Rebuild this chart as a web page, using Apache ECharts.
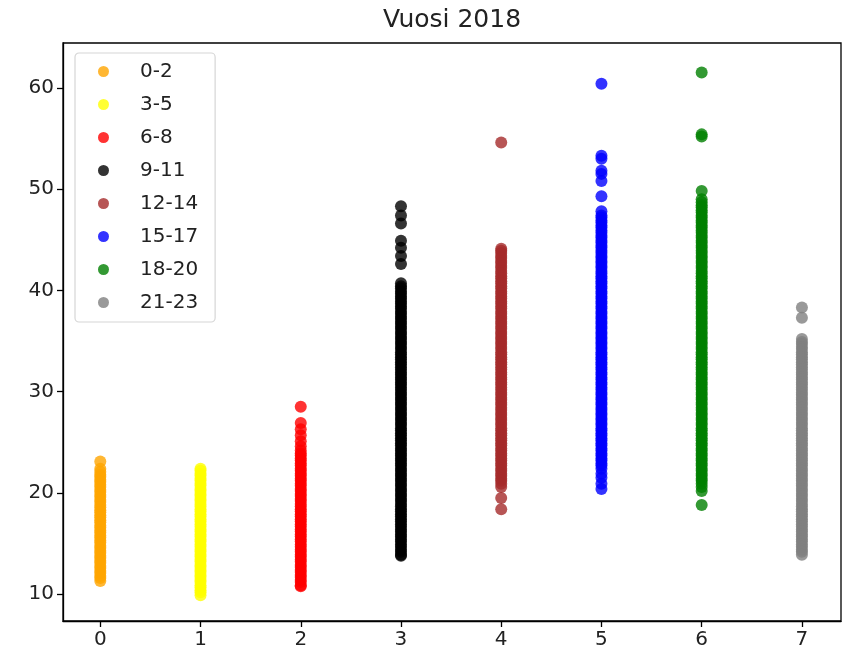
<!DOCTYPE html>
<html>
<head>
<meta charset="utf-8">
<script src="https://cdn.jsdelivr.net/npm/echarts@6/dist/echarts.min.js"></script>
<style>
  html, body { margin: 0; padding: 0; background: #fff; }
  #chart { width: 845px; height: 657px; }
</style>
</head>
<body>
<div id="chart"></div>
<script>
// hour groups, one column each on the x axis
var groups = ["0-2", "3-5", "6-8", "9-11", "12-14", "15-17", "18-20", "21-23"];
var colors = ["#ffa500", "#ffff00", "#ff0000", "#000000", "#a52a2a", "#0000ff", "#008000", "#808080"];
var xTicks = [0, 1, 2, 3, 4, 5, 6, 7];
var yTicks = [10, 20, 30, 40, 50, 60];

// values, per group
var v0 = [23.1, 22.4, 22.1, 21.8, 21.6, 21.3, 21.1, 20.8, 20.6, 20.3, 20.1, 19.8, 19.6, 19.3, 19.1, 18.8,
  18.6, 18.3, 18.1, 17.8, 17.6, 17.3, 17.1, 16.8, 16.6, 16.3, 16.1, 15.8, 15.6, 15.3, 15.1, 14.8,
  14.6, 14.3, 14.1, 13.8, 13.6, 13.3, 13.1, 12.8, 12.6, 12.3, 12.1, 11.8, 11.6, 11.3];
var v1 = [22.4, 22.2, 21.9, 21.7, 21.4, 21.2, 20.9, 20.7, 20.4, 20.2, 19.9, 19.7, 19.4, 19.2, 18.9, 18.7,
  18.4, 18.2, 17.9, 17.7, 17.4, 17.2, 16.9, 16.7, 16.4, 16.2, 15.9, 15.7, 15.4, 15.2, 14.9, 14.7,
  14.4, 14.2, 13.9, 13.7, 13.4, 13.2, 12.9, 12.7, 12.4, 12.2, 11.9, 11.7, 11.4, 11.2, 10.9, 10.7,
  10.4, 10.2, 9.9];
var v2 = [28.5, 26.9, 26.3, 25.7, 25.1, 24.6, 24.2, 23.9, 23.7, 23.4, 23.2, 22.9, 22.7, 22.4, 22.2, 21.9,
  21.7, 21.4, 21.2, 20.9, 20.7, 20.4, 20.2, 19.9, 19.7, 19.4, 19.2, 18.9, 18.7, 18.4, 18.2, 17.9,
  17.7, 17.4, 17.2, 16.9, 16.7, 16.4, 16.2, 15.9, 15.7, 15.4, 15.2, 14.9, 14.7, 14.4, 14.2, 13.9,
  13.7, 13.4, 13.2, 12.9, 12.7, 12.4, 12.2, 11.9, 11.7, 11.4, 11.2, 10.9, 10.8];
var v3 = [48.3, 47.4, 46.6, 44.9, 44.2, 43.4, 42.6, 40.7, 40.4, 40.2, 39.9, 39.7, 39.4, 39.2, 38.9, 38.7,
  38.4, 38.2, 37.9, 37.7, 37.4, 37.2, 36.9, 36.7, 36.4, 36.2, 35.9, 35.7, 35.4, 35.2, 34.9, 34.7,
  34.4, 34.2, 33.9, 33.7, 33.4, 33.2, 32.9, 32.7, 32.4, 32.2, 31.9, 31.7, 31.4, 31.2, 30.9, 30.7,
  30.4, 30.2, 29.9, 29.7, 29.4, 29.2, 28.9, 28.7, 28.4, 28.2, 27.9, 27.7, 27.4, 27.2, 26.9, 26.7,
  26.4, 26.2, 25.9, 25.7, 25.4, 25.2, 24.9, 24.7, 24.4, 24.2, 23.9, 23.7, 23.4, 23.2, 22.9, 22.7,
  22.4, 22.2, 21.9, 21.7, 21.4, 21.2, 20.9, 20.7, 20.4, 20.2, 19.9, 19.7, 19.4, 19.2, 18.9, 18.7,
  18.4, 18.2, 17.9, 17.7, 17.4, 17.2, 16.9, 16.7, 16.4, 16.2, 15.9, 15.7, 15.4, 15.2, 14.9, 14.7,
  14.4, 14.2, 13.9, 13.8];
var v4 = [54.6, 44.1, 43.9, 43.7, 43.4, 43.2, 42.9, 42.7, 42.4, 42.2, 41.9, 41.7, 41.4, 41.2, 40.9, 40.7,
  40.4, 40.2, 39.9, 39.7, 39.4, 39.2, 38.9, 38.7, 38.4, 38.2, 37.9, 37.7, 37.4, 37.2, 36.9, 36.7,
  36.4, 36.2, 35.9, 35.7, 35.4, 35.2, 34.9, 34.7, 34.4, 34.2, 33.9, 33.7, 33.4, 33.2, 32.9, 32.7,
  32.4, 32.2, 31.9, 31.7, 31.4, 31.2, 30.9, 30.7, 30.4, 30.2, 29.9, 29.7, 29.4, 29.2, 28.9, 28.7,
  28.4, 28.2, 27.9, 27.7, 27.4, 27.2, 26.9, 26.7, 26.4, 26.2, 25.9, 25.7, 25.4, 25.2, 24.9, 24.7,
  24.4, 24.2, 23.9, 23.7, 23.4, 23.2, 22.9, 22.7, 22.4, 22.2, 21.9, 21.7, 21.4, 21.2, 20.9, 20.6,
  19.5, 18.4];
var v5 = [60.4, 53.3, 53.0, 51.8, 51.5, 50.8, 49.3, 47.8, 47.4, 47.2, 46.9, 46.7, 46.4, 46.2, 45.9, 45.7,
  45.4, 45.2, 44.9, 44.7, 44.4, 44.2, 43.9, 43.7, 43.4, 43.2, 42.9, 42.7, 42.4, 42.2, 41.9, 41.7,
  41.4, 41.2, 40.9, 40.7, 40.4, 40.2, 39.9, 39.7, 39.4, 39.2, 38.9, 38.7, 38.4, 38.2, 37.9, 37.7,
  37.4, 37.2, 36.9, 36.7, 36.4, 36.2, 35.9, 35.7, 35.4, 35.2, 34.9, 34.7, 34.4, 34.2, 33.9, 33.7,
  33.4, 33.2, 32.9, 32.7, 32.4, 32.2, 31.9, 31.7, 31.4, 31.2, 30.9, 30.7, 30.4, 30.2, 29.9, 29.7,
  29.4, 29.2, 28.9, 28.7, 28.4, 28.2, 27.9, 27.7, 27.4, 27.2, 26.9, 26.7, 26.4, 26.2, 25.9, 25.7,
  25.4, 25.2, 24.9, 24.7, 24.4, 24.2, 23.9, 23.7, 23.4, 23.2, 22.9, 22.7, 22.4, 21.9, 21.5, 20.9,
  20.4];
var v6 = [61.5, 55.4, 55.2, 49.8, 49.0, 48.7, 48.4, 48.2, 47.9, 47.7, 47.4, 47.2, 46.9, 46.7, 46.4, 46.2,
  45.9, 45.7, 45.4, 45.2, 44.9, 44.7, 44.4, 44.2, 43.9, 43.7, 43.4, 43.2, 42.9, 42.7, 42.4, 42.2,
  41.9, 41.7, 41.4, 41.2, 40.9, 40.7, 40.4, 40.2, 39.9, 39.7, 39.4, 39.2, 38.9, 38.7, 38.4, 38.2,
  37.9, 37.7, 37.4, 37.2, 36.9, 36.7, 36.4, 36.2, 35.9, 35.7, 35.4, 35.2, 34.9, 34.7, 34.4, 34.2,
  33.9, 33.7, 33.4, 33.2, 32.9, 32.7, 32.4, 32.2, 31.9, 31.7, 31.4, 31.2, 30.9, 30.7, 30.4, 30.2,
  29.9, 29.7, 29.4, 29.2, 28.9, 28.7, 28.4, 28.2, 27.9, 27.7, 27.4, 27.2, 26.9, 26.7, 26.4, 26.2,
  25.9, 25.7, 25.4, 25.2, 24.9, 24.7, 24.4, 24.2, 23.9, 23.7, 23.4, 23.2, 22.9, 22.7, 22.4, 22.2,
  21.9, 21.7, 21.4, 21.2, 20.9, 20.6, 20.2, 18.8];
var v7 = [38.3, 37.3, 35.2, 34.9, 34.7, 34.4, 34.2, 33.9, 33.7, 33.4, 33.2, 32.9, 32.7, 32.4, 32.2, 31.9,
  31.7, 31.4, 31.2, 30.9, 30.7, 30.4, 30.2, 29.9, 29.7, 29.4, 29.2, 28.9, 28.7, 28.4, 28.2, 27.9,
  27.7, 27.4, 27.2, 26.9, 26.7, 26.4, 26.2, 25.9, 25.7, 25.4, 25.2, 24.9, 24.7, 24.4, 24.2, 23.9,
  23.7, 23.4, 23.2, 22.9, 22.7, 22.4, 22.2, 21.9, 21.7, 21.4, 21.2, 20.9, 20.7, 20.4, 20.2, 19.9,
  19.7, 19.4, 19.2, 18.9, 18.7, 18.4, 18.2, 17.9, 17.7, 17.4, 17.2, 16.9, 16.7, 16.4, 16.2, 15.9,
  15.7, 15.4, 15.2, 14.9, 14.7, 14.4, 14.2, 13.9];
var values = [v0, v1, v2, v3, v4, v5, v6, v7];

var font = "DejaVu Sans";
var chart = echarts.init(document.getElementById("chart"));

var series = groups.map(function (name, i) {
  return {
    name: name,
    type: "scatter",
    symbol: "circle",
    symbolSize: 12,
    itemStyle: { color: colors[i], opacity: 0.8 },
    data: values[i].map(function (v) { return [xTicks[i], v]; }),
  };
});

var axisLine = { show: true, onZero: false, lineStyle: { color: "#000", width: 1.3 } };

chart.setOption({
  animation: false,
  backgroundColor: "#fff",
  title: {
    text: "Vuosi 2018",
    left: 378,
    top: 3,
    textStyle: { fontFamily: font, fontWeight: "normal", fontSize: 25, color: "#222" },
  },
  grid: { left: 63, top: 43, right: 4, bottom: 36, show: true, borderColor: "#000", borderWidth: 1.3 },
  legend: {
    data: groups.map(function (name) { return { name: name, icon: "circle" }; }),
    orient: "vertical",
    left: 75,
    top: 53,
    itemWidth: 11,
    itemHeight: 11,
    itemGap: 12,
    padding: [8, 17, 9, 23],
    backgroundColor: "#fff",
    borderColor: "#d6d6d6",
    borderWidth: 1.2,
    borderRadius: 4,
    textStyle: { fontFamily: font, fontSize: 20, color: "#222", lineHeight: 21, padding: [0, 0, 0, 26] },
  },
  xAxis: {
    type: "value",
    min: -0.372,
    max: 7.39,
    splitLine: { show: false },
    axisLine: axisLine,
    axisTick: { show: true, customValues: xTicks, length: 6, lineStyle: { color: "#000", width: 1.3 } },
    axisLabel: { customValues: xTicks, fontFamily: font, fontSize: 20, color: "#222", margin: 9 },
  },
  yAxis: {
    type: "value",
    min: 7.36,
    max: 64.42,
    splitLine: { show: false },
    axisLine: axisLine,
    axisTick: { show: true, customValues: yTicks, length: 6, lineStyle: { color: "#000", width: 1.3 } },
    axisLabel: { customValues: yTicks, fontFamily: font, fontSize: 20, color: "#222", margin: 9 },
  },
  series: series,
});
</script>
</body>
</html>
